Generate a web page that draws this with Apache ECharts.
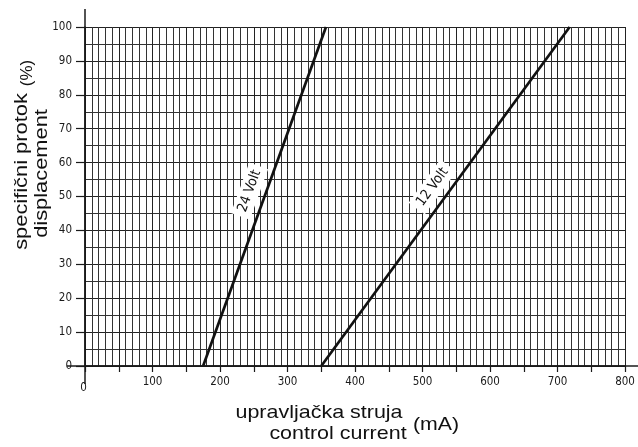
<!DOCTYPE html>
<html>
<head>
<meta charset="utf-8">
<script src="https://cdn.jsdelivr.net/npm/echarts@6/dist/echarts.min.js"></script>
<style>
html,body{margin:0;padding:0;background:#fff;}
#c{width:638px;height:447px;}
</style>
</head>
<body>
<div id="c"></div>
<script>
// ---- data ----
const displacement = [0, 100];          // % (line end points)
const current24V = [175, 357];          // mA
const current12V = [350, 718];          // mA
const lineNames = ['24 Volt', '12 Volt'];
const labelAt = 50;                      // % where the line labels sit
const yTitle = ['specifični protok', 'displacement'];
const xTitle = ['upravljačka struja', 'control current'];
const yUnit = '(%)';
const xUnit = '(mA)';

const INK = '#1a1a1a';
const TICKFONT = "'DejaVu Sans Condensed','DejaVu Sans',sans-serif";
const TITLEFONT = "'Liberation Sans',Arial,sans-serif";

const chart = echarts.init(document.getElementById('c'), null, {renderer: 'canvas'});

function pairs(xs, ys){ return xs.map((x,i)=>[x, ys[i]]); }

chart.setOption({
  animation: false,
  backgroundColor: '#fff',
  grid: {left: 85, right: 13, top: 27, bottom: 81},
  xAxis: {
    type: 'value', min: 0, max: 800, interval: 50,
    axisLine: {show: true, lineStyle: {color: INK, width: 1.5}},
    axisTick: {show: true, length: 6, lineStyle: {color: INK, width: 1.2}},
    axisLabel: {
      margin: 10, color: INK, fontFamily: TICKFONT, fontSize: 11.5,
      formatter: v => v === 0 ? '{z|0}' : (v % 100 === 0 ? String(v) : ''),
      rich: {z: {padding: [6, 3, 0, 0], fontFamily: TICKFONT, fontSize: 11.5, color: INK}}
    },
    splitLine: {show: true, lineStyle: {color: '#222', width: 1}},
    minorTick: {show: false, splitNumber: 5},
    minorSplitLine: {show: true, lineStyle: {color: '#333', width: 1}}
  },
  yAxis: {
    type: 'value', min: 0, max: 100, interval: 10,
    axisLine: {show: true, lineStyle: {color: INK, width: 1.5}},
    axisTick: {show: true, length: 9, lineStyle: {color: INK, width: 1.2}},
    axisLabel: {margin: 13, color: INK, fontFamily: TICKFONT, fontSize: 11.5},
    splitLine: {show: true, lineStyle: {color: '#222', width: 1}},
    minorTick: {show: false, splitNumber: 2},
    minorSplitLine: {show: true, lineStyle: {color: '#333', width: 1}}
  },
  series: [
    {name: lineNames[0], type: 'line', data: pairs(current24V, displacement),
     showSymbol: false, lineStyle: {color: '#111', width: 2.7}, z: 5},
    {name: lineNames[1], type: 'line', data: pairs(current12V, displacement),
     showSymbol: false, lineStyle: {color: '#111', width: 2.7}, z: 5}
  ]
});

// ---- decorations computed from the axes ----
const g = [];
const pOrigin = chart.convertToPixel({gridIndex: 0}, [0, 0]);
const pTop = chart.convertToPixel({gridIndex: 0}, [0, 100]);
// axis line extensions
g.push({type: 'line', shape: {x1: pOrigin[0] - 18, y1: pOrigin[1], x2: 638, y2: pOrigin[1]},
        style: {stroke: INK, lineWidth: 1.5}, z: 10});
g.push({type: 'line', shape: {x1: pOrigin[0], y1: pTop[1] - 18, x2: pOrigin[0], y2: pOrigin[1] + 18},
        style: {stroke: INK, lineWidth: 1.5}, z: 10});

// line labels along the lines
[current24V, current12V].forEach((cur, i) => {
  const p0 = chart.convertToPixel({gridIndex: 0}, [cur[0], displacement[0]]);
  const p1 = chart.convertToPixel({gridIndex: 0}, [cur[1], displacement[1]]);
  const t = (labelAt - displacement[0]) / (displacement[1] - displacement[0]);
  const xm = cur[0] + t * (cur[1] - cur[0]);
  const pm = chart.convertToPixel({gridIndex: 0}, [xm, labelAt]);
  const a = Math.atan2(p0[1] - p1[1], p1[0] - p0[0]);
  const d = 16;
  const cx = pm[0] - Math.sin(a) * d;
  const cy = pm[1] - Math.cos(a) * d;
  g.push({type: 'text', x: cx, y: cy, rotation: a, z: 20,
    style: {text: lineNames[i], font: "14px " + TICKFONT, fill: '#111',
            align: 'center', verticalAlign: 'middle',
            backgroundColor: '#fff', padding: [3, 5, 3, 5]}});
});

// axis titles
g.push({type: 'text', x: 22, y: 171.5, rotation: Math.PI / 2, scaleX: 1.15,
  style: {text: yTitle[0], font: "19px " + TITLEFONT, fill: '#111', align: 'center', verticalAlign: 'middle'}});
g.push({type: 'text', x: 42, y: 173.5, rotation: Math.PI / 2, scaleX: 1.15,
  style: {text: yTitle[1], font: "19px " + TITLEFONT, fill: '#111', align: 'center', verticalAlign: 'middle'}});
g.push({type: 'text', x: 27.5, y: 73, rotation: Math.PI / 2,
  style: {text: yUnit, font: "17px " + TITLEFONT, fill: '#111', align: 'center', verticalAlign: 'middle'}});
g.push({type: 'text', x: 319, y: 413, scaleX: 1.13,
  style: {text: xTitle[0], font: "19px " + TITLEFONT, fill: '#111', align: 'center', verticalAlign: 'middle'}});
g.push({type: 'text', x: 338, y: 434, scaleX: 1.13,
  style: {text: xTitle[1], font: "19px " + TITLEFONT, fill: '#111', align: 'center', verticalAlign: 'middle'}});
g.push({type: 'text', x: 436, y: 425, scaleX: 1.12,
  style: {text: xUnit, font: "19px " + TITLEFONT, fill: '#111', align: 'center', verticalAlign: 'middle'}});

chart.setOption({graphic: {elements: g}});
</script>
</body>
</html>
